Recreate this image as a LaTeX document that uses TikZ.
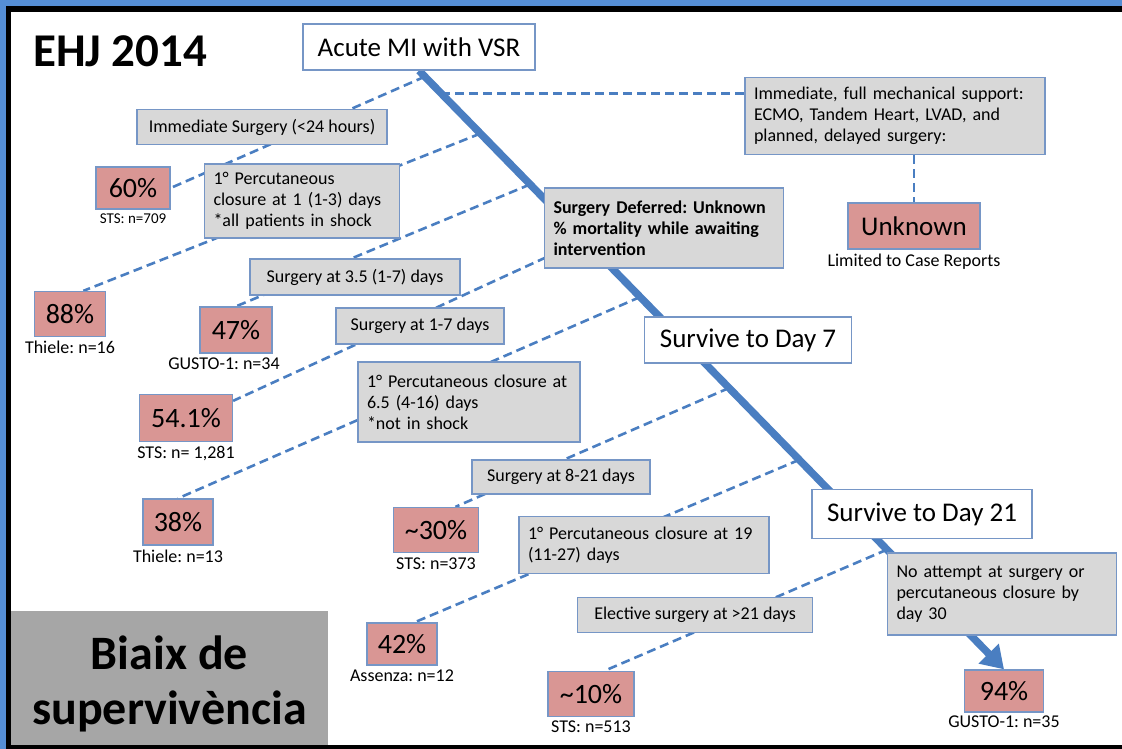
\documentclass[tikz,border=0pt]{standalone}
\usepackage{fontspec}
\setmainfont{Carlito}
\frenchspacing
\usepackage{xcolor}
\definecolor{frameblue}{RGB}{85,142,213}
\definecolor{lineblue}{RGB}{74,126,193}
\definecolor{edgeblue}{RGB}{118,150,198}
\definecolor{boxgray}{RGB}{216,216,216}
\definecolor{rose}{RGB}{217,150,148}
\definecolor{tabgray}{RGB}{166,166,166}
\usetikzlibrary{positioning, calc, arrows.meta}
\pgfdeclarelayer{back}
\pgfdeclarelayer{lines}
\pgfsetlayers{back,lines,main}
\tikzstyle{Box} = [draw=edgeblue, line width=1.3pt, inner sep=0pt]
\tikzstyle{Label} = [Box, fill=boxgray, font=\fontsize{18}{21}\selectfont]
\tikzstyle{Note} = [Label, align=left, inner xsep=9pt]
\tikzstyle{Stage} = [Box, fill=white, font=\fontsize{27}{32}\selectfont]
\tikzstyle{Rate} = [Box, fill=rose, font=\fontsize{28}{32}\selectfont]
\tikzstyle{Source} = [inner sep=0pt, font=\fontsize{18}{21}\selectfont]
\tikzstyle{Trunk} = [
lineblue,
line width=7.5pt,
-{Triangle[length=22pt, width=27pt]}]
\tikzstyle{Branch} = [lineblue, line width=2.6pt, dash pattern=on 9pt off 5pt]

\begin{document}
\begin{tikzpicture}[x=1pt, y=-1pt]
    \useasboundingbox (0,0) rectangle (1122,749);
    \begin{pgfonlayer}{back}
    \fill[white] (0,0) rectangle (1122,749);
    \fill[frameblue] (0,0) rectangle (1122,6);
    \fill[frameblue] (0,0) rectangle (6,749);
    \fill[black] (6,6) rectangle (1122,12);
    \fill[black] (6,6) rectangle (11,749);
    \fill[black] (6,745) rectangle (1122,749);
    \end{pgfonlayer}

    \node [anchor=base west, inner sep=0pt, font=\bfseries\fontsize{47}{50}\selectfont] (ehj) at (33,67) {EHJ 2014};
    \node [fill=tabgray, minimum width=317pt, minimum height=134pt] (biaix) at (169.5,678) {};
    \node [align=center, inner sep=0pt, font=\bfseries\fontsize{48}{55}\selectfont] (biaixtext) at ($(biaix.center)+(0,6)$) {Biaix de\\supervivència};

    \node [Stage, minimum width=232pt, minimum height=46pt] (acute) at (419,47) {Acute MI with VSR};
    \node [Label, minimum width=250pt, minimum height=35pt] (imm) at (262,127) {Immediate Surgery (<24 hours)};
    \node [Rate, minimum width=74pt, minimum height=42pt] (p60) at (133,188) {60\%};
    \node [Source, font=\fontsize{15}{18}\selectfont, below=4pt of p60] (n60) {STS: n=709};
    \node [Note, text width=177pt, minimum height=74pt] (perc1) at (302,201) {1° Percutaneous\\closure at 1 (1-3) days\\{*}all patients in shock};
    \node [Note, text width=221pt, minimum height=80pt, font=\bfseries\fontsize{18}{21}\selectfont] (defer) at (664,228)
          {Surgery Deferred: Unknown\\\% mortality while awaiting\\intervention};
    \node [Note, text width=282pt, minimum height=77pt] (mech) at (895,116)
          {Immediate, full mechanical support:\\ECMO, Tandem Heart, LVAD, and\\planned, delayed surgery:};
    \node [Rate, minimum width=132pt, minimum height=46pt, font=\fontsize{27}{32}\selectfont] (unk) at (914,226) {Unknown};
    \node [Source, below=4pt of unk] (lim) {Limited to Case Reports};

    \node [Label, minimum width=210pt, minimum height=36pt] (s35) at (355,277) {Surgery at 3.5 (1-7) days};
    \node [Rate, minimum width=71pt, minimum height=45pt] (p88) at (70,314) {88\%};
    \node [Source, below=4pt of p88] (n88) {Thiele: n=16};
    \node [Rate, minimum width=72pt, minimum height=46pt] (p47) at (236,330) {47\%};
    \node [Source, below=4pt of p47, xshift=-12pt] (n47) {GUSTO-1: n=34};
    \node [Label, minimum width=168pt, minimum height=36pt] (s17) at (420,326) {Surgery at 1-7 days};
    \node [Stage, minimum width=207pt, minimum height=46pt] (day7) at (748,340) {Survive to Day 7};
    \node [Note, text width=204pt, minimum height=80pt] (perc2) at (469,402) {1° Percutaneous closure at\\6.5 (4-16) days\\{*}not in shock};
    \node [Rate, minimum width=93pt, minimum height=47pt] (p541) at (186,418) {54.1\%};
    \node [Source, below=4pt of p541] (n541) {STS: n= 1,281};
    \node [Rate, minimum width=70pt, minimum height=46pt] (p38) at (178,522) {38\%};
    \node [Source, below=4pt of p38] (n38) {Thiele: n=13};

    \node [Label, minimum width=178pt, minimum height=34pt] (s821) at (561,477) {Surgery at 8-21 days};
    \node [Rate, minimum width=85pt, minimum height=45pt] (p30) at (436,530) {\textasciitilde30\%};
    \node [Source, below=4pt of p30] (n30) {STS: n=373};
    \node [Stage, minimum width=220pt, minimum height=49pt] (day21) at (922,514) {Survive to Day 21};
    \node [Note, text width=232pt, minimum height=57pt] (perc3) at (644,545) {1° Percutaneous closure at 19\\(11-27) days};
    \node [Note, text width=211pt, minimum height=82pt] (none) at (1002,594) {No attempt at surgery or\\percutaneous closure by\\day 30};
    \node [Label, minimum width=235pt, minimum height=35pt] (elec) at (695,615) {Elective surgery at >21 days};
    \node [Rate, minimum width=70pt, minimum height=42pt] (p42) at (402,644) {42\%};
    \node [Source, below=4pt of p42] (n42) {Assenza: n=12};
    \node [Rate, minimum width=86pt, minimum height=45pt] (p10) at (591,694) {\textasciitilde10\%};
    \node [Source, below=3pt of p10] (n10) {STS: n=513};
    \node [Rate, minimum width=79pt, minimum height=42pt] (p94) at (1004,691) {94\%};
    \node [Source, below=3pt of p94] (n94) {GUSTO-1: n=35};

    \begin{pgfonlayer}{lines}
    \draw[Trunk] (acute.south) -- (p94.north);
    \coordinate (b1) at ($(acute.south)!0.01!(p94.north)$);
    \coordinate (b2) at ($(acute.south)!0.038!(p94.north)$);
    \coordinate (b3) at ($(acute.south)!0.105!(p94.north)$);
    \coordinate (b4) at ($(acute.south)!0.19!(p94.north)$);
    \coordinate (b5) at ($(acute.south)!0.2825!(p94.north)$);
    \coordinate (b6) at ($(acute.south)!0.378!(p94.north)$);
    \coordinate (b7) at ($(acute.south)!0.53!(p94.north)$);
    \coordinate (b8) at ($(acute.south)!0.65!(p94.north)$);
    \coordinate (b9) at ($(acute.south)!0.8!(p94.north)$);
    \draw[Branch] (b1) -- (p60.east);
    \draw[Branch] (b2) -- (b2 -| mech.west);
    \draw[Branch] (mech.south -| unk.north) -- (unk.north);
    \draw[Branch] (b3) -- (p88.60);
    \draw[Branch] (b4) -- (p47.north);
    \draw[Branch] (b5) -- (p541.20);
    \draw[Branch] (b6) -- (p38.north);
    \draw[Branch] (b7) -- (p30.50);
    \draw[Branch] (b8) -- (p42.60);
    \draw[Branch] (b9) -- (p10.60);
    \end{pgfonlayer}
\end{tikzpicture}
\end{document}
